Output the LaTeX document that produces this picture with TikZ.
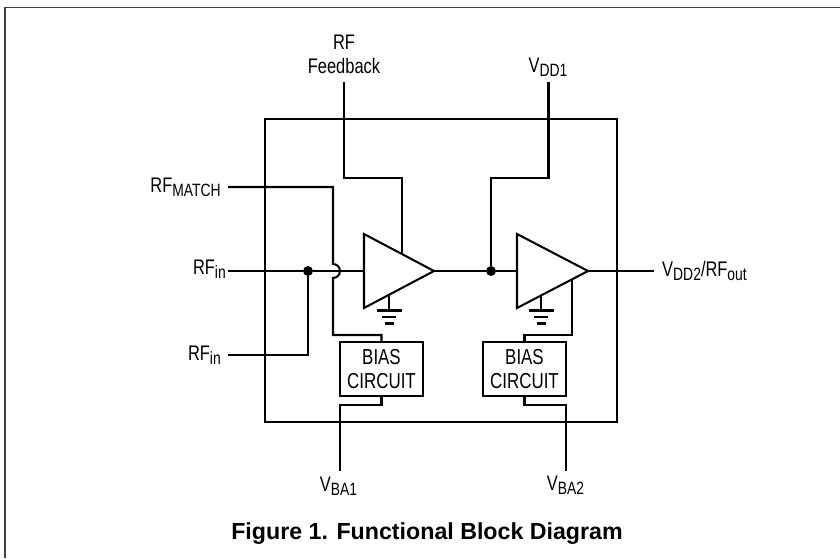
\documentclass[tikz,border=0pt]{standalone}
\usepackage{fontspec}
\setmainfont[FakeStretch=0.78]{Liberation Sans}
\newfontfamily\capfont{Liberation Sans}
\usetikzlibrary{positioning}
\newcommand{\subtxt}[1]{\raisebox{-0.42ex}{\fontsize{15.2}{16}\selectfont #1}}
\tikzset{
	wire/.style={line width=1.75pt,line join=miter},
	dotjoin/.style={circle,fill=black,inner sep=0pt,minimum size=8.5pt},
	biasbox/.style={draw,line width=1.75pt,minimum width=70.5pt,minimum height=46pt,inner sep=0pt,align=center,font=\fontsize{18.5}{21}\selectfont},
	pinlabel/.style={inner sep=0pt,font=\fontsize{18}{20.5}\selectfont}
}
\begin{document}
\begin{tikzpicture}[x=0.03cm,y=-0.03cm]
	\useasboundingbox (0,0) rectangle (840,558);

	%outer frame, open on two sides
	\draw[line width=1pt,black!75] (840,7.5) -- (5,7.5) -- (5,558);

	%chip outline
	\draw[wire] (265,119) rectangle (617,422);

	%amplifier corners
	\coordinate (amp1top) at (364,234);	\coordinate (amp1bot) at (364,308);	\coordinate (amp1tip) at (434,271);
	\coordinate (amp2top) at (517,234);	\coordinate (amp2bot) at (517,308);	\coordinate (amp2tip) at (588,271);
	\coordinate (amp1in) at (364,271);	\coordinate (amp2in) at (517,271);

	%bias blocks
	\node[biasbox] (bias1) at (381.5,369) {BIAS\\CIRCUIT};
	\node[biasbox] (bias2) at (524.5,369) {BIAS\\CIRCUIT};

	%pin labels
	\node[pinlabel,align=center] (fbpin) at (344,54) {RF\\Feedback};
	\node[pinlabel,anchor=base east] (matchpin) at (221,192) {RF\subtxt{MATCH}};
	\node[pinlabel,anchor=base east] (rfinpin) at (226,274) {RF\subtxt{in}};
	\node[pinlabel,anchor=base east] (rfinpinb) at (221,360) {RF\subtxt{in}};
	\node[pinlabel,anchor=base] (vddpin) at (548,72) {V\subtxt{DD1}};
	\node[pinlabel,anchor=base west] (outpin) at (662,276) {V\subtxt{DD2}/RF\subtxt{out}};
	\node[pinlabel,anchor=base] (vba1pin) at (338.5,491) {V\subtxt{BA1}};
	\node[pinlabel,anchor=base] (vba2pin) at (565.5,490) {V\subtxt{BA2}};

	%free wire ends
	\coordinate (fbend) at (344,82);
	\coordinate (vddend) at (548.5,82);
	\coordinate (matchend) at (228,187);
	\coordinate (rfinend) at (228,271);
	\coordinate (rfinendb) at (228,355);
	\coordinate (outend) at (654,271);
	\coordinate (vba1end) at (340,471);
	\coordinate (vba2end) at (566,471);

	%junctions
	\node[dotjoin] (rfdot) at (308,271) {};
	\node[dotjoin] (middot) at (491,271) {};

	%signal path
	\draw[wire] (rfinend) -- (rfdot) -- (amp1in);
	\draw[wire] (rfinendb) -| (rfdot);
	\draw[wire] (amp1tip) -- (middot) -- (amp2in);
	\draw[wire] (amp2tip) -- (outend);

	%feedback and supply
	\draw[wire] (fbend) -- (344,178) -| (402,253);
	\draw[wire] (vddend) -- (548.5,178) -| (middot);

	%match line with hop over rf in
	\draw[wire] (matchend) -- (333,187) -- (333,264) arc (-90:90:7) -- (333,335) -| (bias1.north);

	%bias lines
	\draw[wire] (572,280) -- (572,335) -| (bias2.north);
	\draw[wire] (bias1.south) |- (340,405) -- (vba1end);
	\draw[wire] (bias2.south) |- (566,405) -- (vba2end);

	%amplifiers
	\filldraw[wire,fill=white] (amp1top) -- (amp1tip) -- (amp1bot) -- cycle;
	\filldraw[wire,fill=white] (amp2top) -- (amp2tip) -- (amp2bot) -- cycle;

	%grounds
	\draw[wire] (389,295) -- (389,310.5);
	\draw[wire] (376.5,310.5) -- (401.5,310.5);	\draw[wire] (382,317) -- (396,317);	\draw[wire] (385,323.5) -- (394,323.5);
	\draw[wire] (541,295) -- (541,310.5);
	\draw[wire] (528.5,310.5) -- (553.5,310.5);	\draw[wire] (534,317) -- (548,317);	\draw[wire] (537,323.5) -- (546,323.5);

	%caption
	\node[inner sep=0pt,anchor=base,font=\capfont\bfseries\fontsize{19.8}{22}\selectfont] (caption) at (427,539) {Figure 1. Functional Block Diagram};
\end{tikzpicture}
\end{document}
